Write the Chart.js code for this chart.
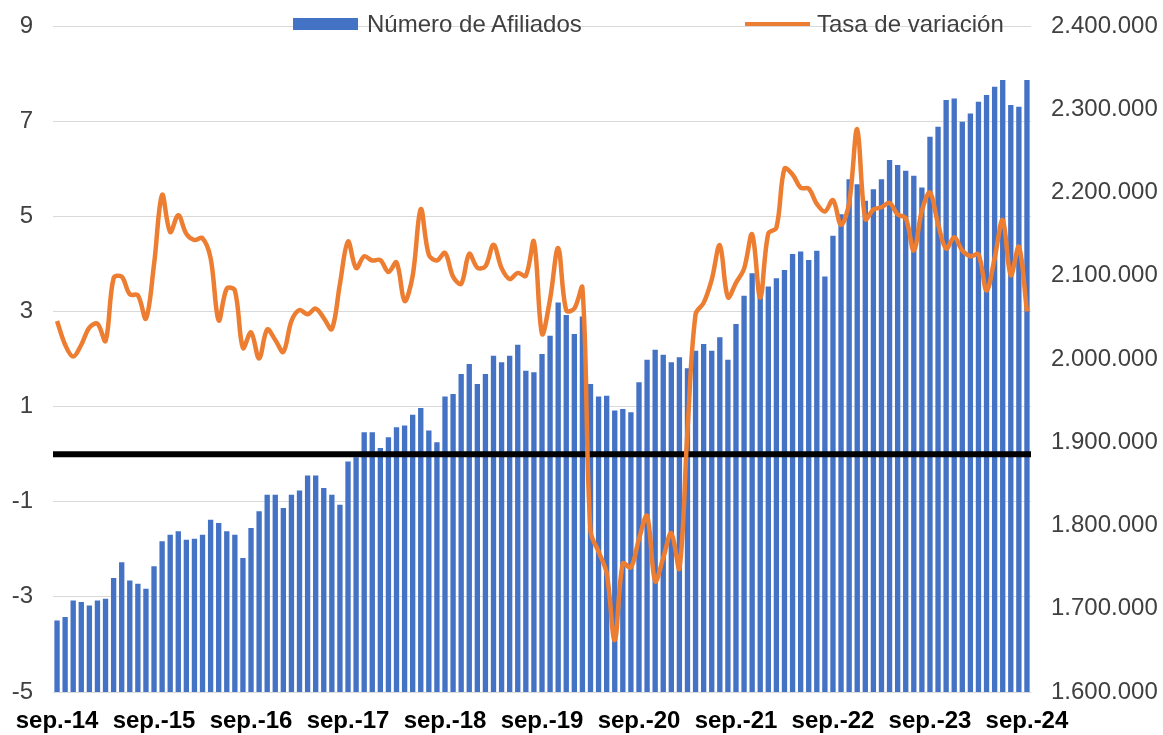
<!DOCTYPE html>
<html lang="es">
<head>
<meta charset="utf-8">
<title>Afiliados y tasa de variación</title>
<script src="https://cdn.jsdelivr.net/npm/chart.js@4.4.1/dist/chart.umd.min.js"></script>
<style>
  body { margin: 0; background: #fff; }
  #wrap { position: relative; width: 1163px; height: 735px; font-family: "Liberation Sans", Arial, sans-serif; }
  .legend-item { position: absolute; top: 10px; height: 28px; line-height: 28px; font-size: 24px; color: #404040; white-space: nowrap; }
  .legend-item i { position: absolute; display: block; }
</style>
</head>
<body>
<div id="wrap">
  <canvas id="chart" width="1163" height="735"></canvas>
  <div class="legend-item" style="left:293px;padding-left:74px;">
    <i style="left:0;top:8px;width:65px;height:12px;background:#4472C4;"></i>Número de Afiliados
  </div>
  <div class="legend-item" style="left:745px;padding-left:72px;">
    <i style="left:0;top:12px;width:65px;height:4px;background:#ED7D31;"></i>Tasa de variación
  </div>
</div>
<script>
const months = ["sep.", "oct.", "nov.", "dic.", "ene.", "feb.", "mar.", "abr.", "may.", "jun.", "jul.", "ago."];
const yearTicks = ["sep.-14", "sep.-15", "sep.-16", "sep.-17", "sep.-18", "sep.-19", "sep.-20", "sep.-21", "sep.-22", "sep.-23", "sep.-24"];

// Número de Afiliados (eje derecho)
const afiliados = [
  1686000, 1690000, 1710000, 1708000, 1704000, 1710000, 1712000, 1737000, 1756000, 1734000, 1730000, 1724000,
  1751000, 1781000, 1789000, 1793000, 1783000, 1784000, 1789000, 1807000, 1803000, 1793000, 1789000, 1761000,
  1797000, 1817000, 1837000, 1837000, 1821000, 1837000, 1842000, 1860000, 1860000, 1845000, 1837000, 1825000,
  1877000, 1882000, 1912000, 1912000, 1893000, 1906000, 1918000, 1920000, 1933000, 1941000, 1914000, 1900000,
  1955000, 1958000, 1982000, 1994000, 1970000, 1982000, 2004000, 1996000, 2004000, 2017000, 1986000, 1984000,
  2006000, 2028000, 2068000, 2053000, 2030000, 2051000, 1970000, 1955000, 1956000, 1938000, 1940000, 1936000,
  1972000, 1999000, 2011000, 2005000, 1996000, 2002000, 1989000, 2010000, 2018000, 2010000, 2026000, 1999000,
  2042000, 2076000, 2103000, 2082000, 2087000, 2097000, 2107000, 2126000, 2129000, 2119000, 2130000, 2099000,
  2148000, 2174000, 2216000, 2210000, 2190000, 2204000, 2216000, 2239000, 2233000, 2226000, 2220000, 2206000,
  2267000, 2279000, 2311000, 2313000, 2285000, 2295000, 2309000, 2317000, 2327000, 2335000, 2305000, 2303000,
  2335000
];

// Tasa de variación (eje izquierdo)
const tasaVariacion = [
  2.80, 2.30, 2.05, 2.30, 2.66, 2.74, 2.38, 3.70, 3.73, 3.36, 3.34, 2.85,
  3.99, 5.45, 4.67, 5.02, 4.63, 4.50, 4.54, 4.12, 2.81, 3.48, 3.44, 2.23,
  2.56, 2.01, 2.62, 2.40, 2.15, 2.80, 3.03, 2.94, 3.06, 2.86, 2.63, 3.58,
  4.47, 3.91, 4.16, 4.07, 4.08, 3.83, 4.03, 3.22, 3.75, 5.15, 4.19, 4.07,
  4.23, 3.73, 3.58, 4.21, 3.92, 3.95, 4.40, 3.91, 3.68, 3.81, 3.75, 4.47,
  2.53, 3.26, 4.33, 3.02, 3.06, 3.50, -1.62, -2.05, -2.50, -3.91, -2.30, -2.38,
  -1.78, -1.30, -2.67, -2.18, -1.66, -2.40, 0.50, 2.94, 3.18, 3.67, 4.39, 3.30,
  3.60, 3.90, 4.62, 3.29, 4.64, 4.76, 6.00, 5.88, 5.60, 5.58, 5.26, 5.10,
  5.34, 4.82, 5.28, 6.83, 4.94, 5.14, 5.19, 5.28, 5.04, 4.96, 4.28, 5.12,
  5.50, 4.84, 4.32, 4.56, 4.28, 4.16, 4.20, 3.44, 4.12, 4.92, 3.76, 4.36,
  3.00
];

const tasaTicks = [-5, -3, -1, 1, 3, 5, 7, 9];
const afiliadosTicks = [1600000, 1700000, 1800000, 1900000, 2000000, 2100000, 2200000, 2300000, 2400000];
const zeroLine = 0;

const labels = afiliados.map((_, i) => {
  const year = 14 + Math.floor((i + 8) / 12);
  return months[i % 12] + "-" + year;
});

function formatMiles(v) {
  return String(v).replace(/\B(?=(\d{3})+(?!\d))/g, ".");
}

const tickFont = { family: "'Liberation Sans', Arial, sans-serif", size: 24 };

// fixed axis widths, and no extra label padding above/below the plot
function fixWidth(width) {
  return (scale) => {
    scale.width = width;
    scale.paddingTop = 0;
    scale.paddingBottom = 0;
  };
}

const zeroLinePlugin = {
  id: "zeroLine",
  afterDatasetDraw(chart, args) {
    if (args.meta.type !== "bar") return;
    const { ctx, chartArea } = chart;
    const y = chart.scales.y.getPixelForValue(zeroLine);
    ctx.save();
    ctx.strokeStyle = "#000";
    ctx.lineWidth = 6;
    ctx.beginPath();
    ctx.moveTo(chartArea.left, y);
    ctx.lineTo(chartArea.right, y);
    ctx.stroke();
    ctx.restore();
  },
};

new Chart(document.getElementById("chart"), {
  data: {
    labels,
    datasets: [
      {
        type: "bar",
        label: "Número de Afiliados",
        data: afiliados,
        yAxisID: "y1",
        backgroundColor: "#4472C4",
        barPercentage: 0.66,
        categoryPercentage: 1,
        order: 2,
      },
      {
        type: "line",
        label: "Tasa de variación",
        data: tasaVariacion,
        yAxisID: "y",
        borderColor: "#ED7D31",
        borderWidth: 4.5,
        pointRadius: 0,
        tension: 0.35,
        order: 1,
      },
    ],
  },
  options: {
    responsive: false,
    animation: false,
    layout: { padding: { top: 26, left: 0, right: 0, bottom: 0 } },
    plugins: {
      legend: { display: false },
      tooltip: { enabled: false },
    },
    scales: {
      x: {
        offset: true,
        grid: { display: false },
        border: { display: false },
        afterFit: (scale) => { scale.height = 43; },
        ticks: {
          autoSkip: false,
          maxRotation: 0,
          padding: 7,
          color: "#000",
          font: { ...tickFont, weight: "bold" },
          callback(value) {
            const text = this.getLabelForValue(value);
            return yearTicks.includes(text) ? text : "";
          },
        },
      },
      y: {
        position: "left",
        min: tasaTicks[0],
        max: tasaTicks[tasaTicks.length - 1],
        afterBuildTicks: (scale) => { scale.ticks = tasaTicks.map((v) => ({ value: v })); },
        afterFit: fixWidth(53),
        grid: { color: "#D9D9D9", lineWidth: 1, drawTicks: false },
        border: { display: false },
        ticks: { padding: 20, color: "#404040", font: tickFont },
      },
      y1: {
        position: "right",
        min: afiliadosTicks[0],
        max: afiliadosTicks[afiliadosTicks.length - 1],
        afterBuildTicks: (scale) => { scale.ticks = afiliadosTicks.map((v) => ({ value: v })); },
        afterFit: fixWidth(132),
        grid: { display: false, drawTicks: false },
        border: { display: false },
        ticks: { padding: 20, color: "#404040", font: tickFont, callback: (v) => formatMiles(v) },
      },
    },
  },
  plugins: [zeroLinePlugin],
});
</script>
</body>
</html>
